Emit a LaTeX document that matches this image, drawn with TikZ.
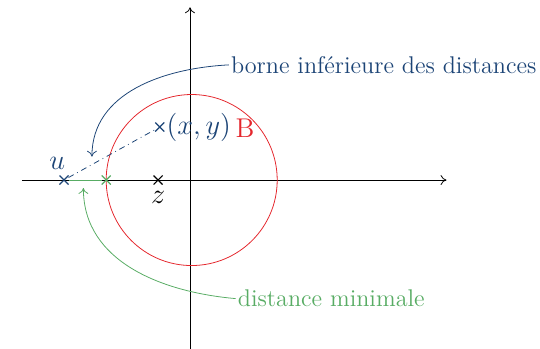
\documentclass[tikz,border=0pt]{standalone}
\usetikzlibrary{shapes.misc,arrows.meta}
\definecolor{bleu}{RGB}{28,68,118}
\definecolor{rouge}{RGB}{228,38,44}
\definecolor{vert}{RGB}{88,172,100}
\tikzset{
  croix/.style={cross out,draw,semithick,minimum size=4pt,inner sep=0pt},
  legende/.style={font=\fontsize{12.3}{14}\selectfont},
  etiq/.style={font=\fontsize{13.8}{15}\selectfont},
}
\begin{document}
\begin{tikzpicture}[x=1.02cm,y=1.02cm,>={To[length=3pt,width=5pt]}]
\useasboundingbox (-3.333,-2.947) rectangle (6.14,3.158);
% axes
\draw[->] (-2.95,0)--(4.5,0);
\draw[->] (0,-3)--(0,3.03);
% boule
\draw[rouge] (0.03,0) circle (1.5);
\node[rouge,etiq,anchor=west] (B) at (0.68,0.9) {B};
% points
\node[croix] (z) at (-0.56,0) {};
\node[etiq,below=0pt] (lz) at (z.south) {$z$};
\node[croix,bleu] (u) at (-2.21,0) {};
\node[bleu,etiq] (lu) at (-2.33,0.3) {$u$};
\node[croix,bleu] (xy) at (-0.53,0.93) {};
\node[bleu,etiq,anchor=west,inner sep=1pt] (lxy) at (xy.east) {$(x,y)$};
\node[croix,vert] (p) at (-1.47,0) {};
\draw[bleu,dash dot] (u)--(xy);
\draw[vert] (u)--(p);
% legendes
\node[bleu,legende,anchor=west,inner sep=1pt] (borne) at (0.68,2.02) {borne inférieure des distances};
\node[vert,legende,anchor=west,inner sep=1pt] (dmin) at (0.8,-2.08) {distance minimale};
\coordinate (fb) at (-1.72,0.41);
\coordinate (fv) at (-1.87,-0.14);
\draw[bleu,->] (borne.west) to[out=183,in=90] (fb);
\draw[vert,->] (dmin.west) to[out=175,in=-90] (fv);
\end{tikzpicture}
\end{document}
